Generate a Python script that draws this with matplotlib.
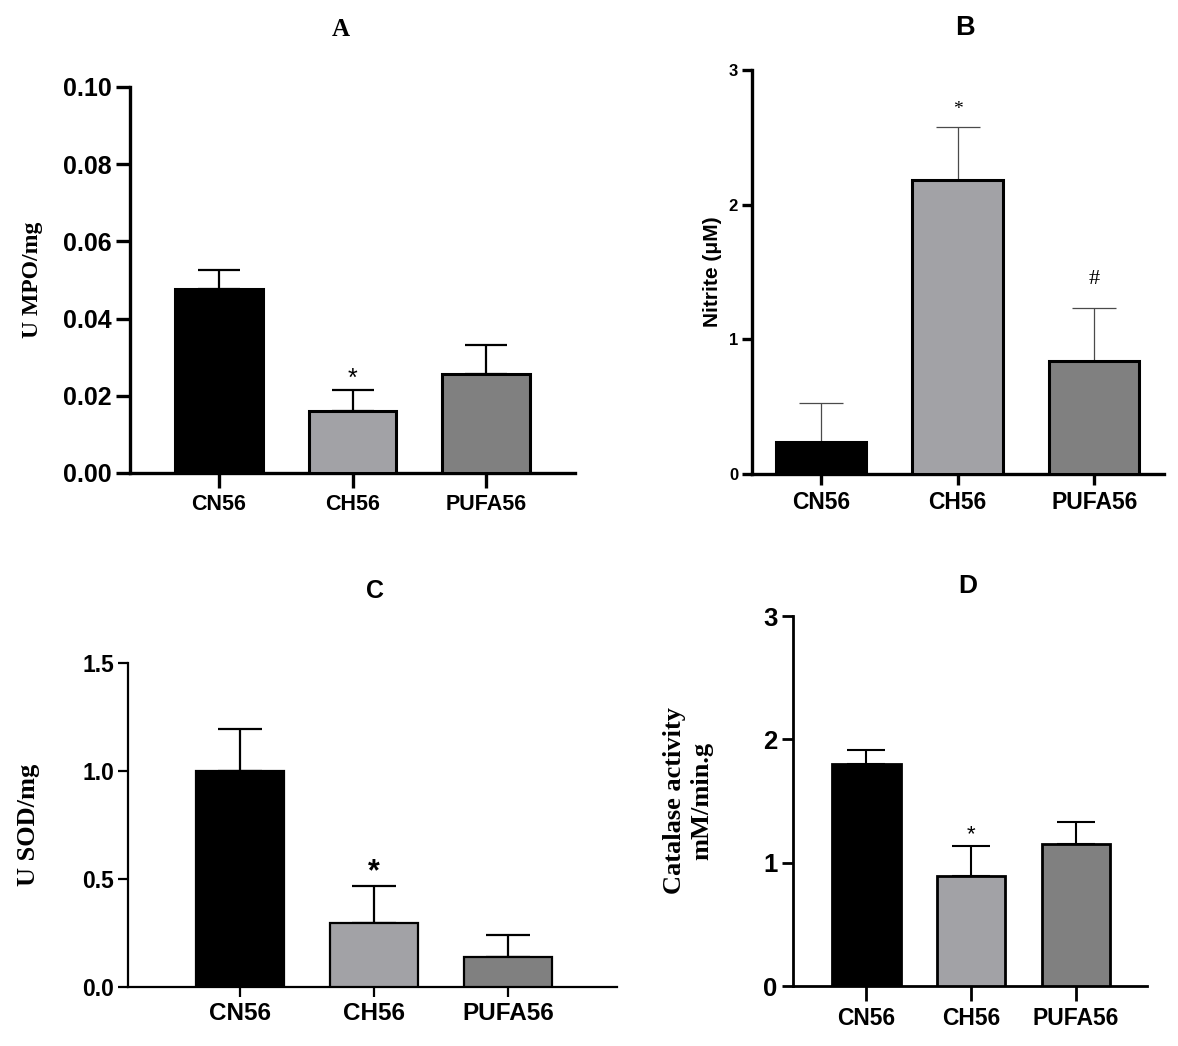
import numpy as np
import matplotlib
matplotlib.use('Agg')
import matplotlib.pyplot as plt
from matplotlib.ticker import FormatStrFormatter

#################################################
#            Data                               #
#################################################

groups = ['CN56', 'CH56', 'PUFA56']
bar_colors = ['#000000', '#a2a2a6', '#808080']

# A: MPO activity
mpo_mean = [0.0477, 0.0161, 0.0256]
mpo_sem = [0.0049, 0.0054, 0.0076]
mpo_marks = ['', '*', '']

# B: nitrite
nitrite_mean = [0.235, 2.18, 0.84]
nitrite_sem = [0.29, 0.395, 0.39]
nitrite_marks = ['', '*', '#']

# C: SOD
sod_mean = [1.0, 0.297, 0.14]
sod_sem = [0.195, 0.17, 0.10]
sod_marks = ['', '*', '']

# D: catalase
cat_mean = [1.80, 0.892, 1.152]
cat_sem = [0.11, 0.243, 0.178]
cat_marks = ['', '*', '']

SANS = ['Liberation Sans', 'DejaVu Sans']
SERIF = ['Liberation Serif', 'DejaVu Serif']

W, H = 1178, 1046
fig = plt.figure(figsize=(W / 100, H / 100), dpi=100)


def px_rect(x0, y0, x1, y1):
    # pixel box -> figure fraction rect
    return [x0 / W, 1 - y1 / H, (x1 - x0) / W, (y1 - y0) / H]


def panel(rect, mean, sem, marks, xlim, ylim, yticks, yfmt, opts):
    ax = fig.add_axes(rect)
    x = np.arange(len(groups))
    ax.bar(x, mean, width=opts['bw'], color=bar_colors, edgecolor='black',
           linewidth=opts['edge'], zorder=3)
    ax.errorbar(x, mean, yerr=[np.zeros(len(mean)), sem], fmt='none',
                ecolor=opts['ecol'], elinewidth=opts['elw'],
                capsize=opts['cap'], capthick=opts['elw'], zorder=2)
    for i, m in enumerate(marks):
        if m:
            ax.annotate(m, (x[i], mean[i] + sem[i]), xytext=(0, opts['moff']),
                        textcoords='offset points', ha='center', va='center',
                        fontsize=opts['mfs'], family=opts['mfam'],
                        fontweight=opts['mfw'])
    ax.set_xlim(*xlim)
    ax.set_ylim(*ylim)
    ax.set_yticks(yticks)
    if yfmt:
        ax.yaxis.set_major_formatter(FormatStrFormatter(yfmt))
    ax.set_xticks(x)
    ax.set_xticklabels(groups, fontsize=opts['xfs'], fontweight='bold', family=SANS)
    for lbl in ax.get_yticklabels():
        lbl.set_fontsize(opts['yfs'])
        lbl.set_fontweight('bold')
        lbl.set_family(SANS)
    for side in ['top', 'right']:
        ax.spines[side].set_visible(False)
    for side in ['left', 'bottom']:
        ax.spines[side].set_linewidth(opts['spine'])
    ax.tick_params(axis='y', length=opts['ytl'], width=opts['spine'], pad=3)
    ax.tick_params(axis='x', length=opts['xtl'], width=opts['spine'], pad=4)
    return ax


# A
axA = panel(px_rect(130, 87, 575, 473), mpo_mean, mpo_sem, mpo_marks,
            (-0.662, 2.662), (0, 0.10), [0, 0.02, 0.04, 0.06, 0.08, 0.10], '%.2f',
            dict(bw=0.656, edge=2.2, ecol='black', elw=1.6, cap=15, moff=8,
                 mfs=18, mfam=SANS, mfw='normal', xfs=15.5, yfs=18, spine=2.4,
                 ytl=10, xtl=11))
axA.set_ylabel('U MPO/mg', family=SERIF, fontweight='bold', fontsize=17)
axA.yaxis.set_label_coords(-0.195, 0.5)
fig.text(341 / W, 1 - 30 / H, 'A', family=SERIF, fontweight='bold', fontsize=18,
         ha='center', va='center')

# B
axB = panel(px_rect(752, 70, 1164, 474), nitrite_mean, nitrite_sem, nitrite_marks,
            (-0.503, 2.51), (0, 3), [0, 1, 2, 3], None,
            dict(bw=0.66, edge=2.2, ecol='#4a4a4a', elw=0.9, cap=16, moff=13,
                 mfs=14, mfam=SERIF, mfw='normal', xfs=16.5, yfs=12, spine=2.4,
                 ytl=7, xtl=8))
axB.texts[-1].set_position((0, 21))
axB.texts[-1].set_fontsize(16)
axB.set_ylabel('Nitrite (μM)', family=SANS, fontweight='bold', fontsize=15)
axB.yaxis.set_label_coords(-0.073, 0.5)
fig.text(965 / W, 1 - 28 / H, 'B', family=SANS, fontweight='bold', fontsize=19.5,
         ha='center', va='center')

# C
axC = panel(px_rect(128, 663, 617, 987), sod_mean, sod_sem, sod_marks,
            (-0.835, 2.81), (0, 1.5), [0, 0.5, 1.0, 1.5], '%.1f',
            dict(bw=0.655, edge=1.6, ecol='black', elw=1.6, cap=15.5, moff=10,
                 mfs=22, mfam=SANS, mfw='bold', xfs=17.5, yfs=16.5, spine=1.6,
                 ytl=7, xtl=7))
axC.set_ylabel('U SOD/mg', family=SERIF, fontweight='bold', fontsize=19)
axC.yaxis.set_label_coords(-0.18, 0.5)
fig.text(375 / W, 1 - 591 / H, 'C', family=SANS, fontweight='bold', fontsize=18,
         ha='center', va='center')

# D
axD = panel(px_rect(793, 616, 1147, 986), cat_mean, cat_sem, cat_marks,
            (-0.70, 2.68), (0, 3), [0, 1, 2, 3], None,
            dict(bw=0.654, edge=2.0, ecol='black', elw=1.5, cap=14, moff=8,
                 mfs=16, mfam=SANS, mfw='normal', xfs=16.5, yfs=18.5, spine=2.0,
                 ytl=8, xtl=11))
axD.set_ylabel('Catalase activity\nmM/min.g', family=SERIF, fontweight='bold',
               fontsize=19, linespacing=1.25)
axD.yaxis.set_label_coords(-0.225, 0.5)
fig.text(968 / W, 1 - 586 / H, 'D', family=SANS, fontweight='bold', fontsize=19,
         ha='center', va='center')

fig.savefig('out.png', dpi=100)
